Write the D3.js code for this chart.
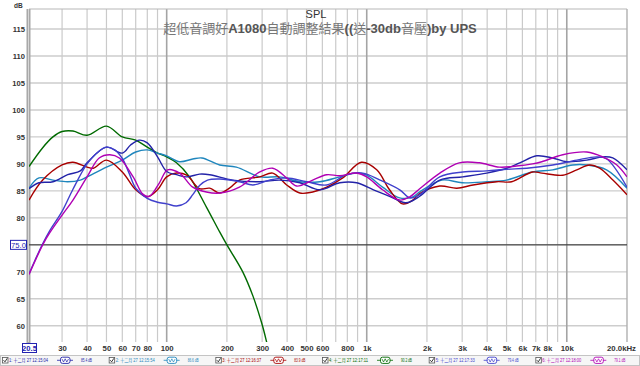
<!DOCTYPE html>
<html><head><meta charset="utf-8">
<script src="https://cdn.jsdelivr.net/npm/d3@7"></script>
<style>body{margin:0;background:#fff}svg{display:block}</style>
</head><body>
<svg id="c" width="640" height="366"></svg>
<script>
// ---------- data ----------
const titleText = "SPL";
const subtitleText = "超低音調好A1080自動調整結果((送-30db音壓)by UPS";
const yTicks = [60,65,70,75,80,85,90,95,100,105,110,115];
const xTickValues = [30,40,50,60,70,80,100,200,300,400,500,600,800,1000,2000,3000,4000,5000,6000,7000,8000,10000];
const xTickLabels = ["30","40","50","60","70","80","100","200","300","400","500","600","800","1k","2k","3k","4k","5k","6k","7k","8k","10k"];
const minorGrid = [30,40,50,60,70,80,90,200,300,400,500,600,700,800,900,2000,3000,4000,5000,6000,7000,8000,9000];
const decadeGrid = [100,1000,10000];
const refLevel = 75.0;
const startFreq = 20.5;

const seriesNames = ["1: 十二月 27 12:15:04","2: 十二月 27 12:15:54","3: 十二月 27 12:16:37","4: 十二月 27 12:17:11","5: 十二月 27 12:17:33","6: 十二月 27 12:18:00"];
const seriesValues = ["85.4 dB","86.6 dB","83.9 dB","90.2 dB","79.4 dB","79.1 dB"];
const seriesColors = ["#2323a8","#1f86bd","#a80000","#006a00","#4040cc","#b000b4"];

const s1 = [[20.5,85.4],[23,86.5],[27,86.7],[32,88],[37,88.7],[40,90.2],[50,93.1],[60,92.0],[66,93.5],[73,94.4],[80,93.9],[90,91.3],[100,88.6],[112,88],[126,87.6],[146,88.1],[164,88],[214,87],[292,86.7],[367,87],[463,86.5],[583,85.2],[733,86.5],[890,86.5],[1080,85.2],[1300,84],[1570,82.8],[1840,84],[2317,87],[3020,87.6],[3981,88.3],[5012,89.2],[5821,90.2],[7079,91.5],[8511,91.1],[10000,90.4],[12589,90.7],[15136,91.3],[16982,91.1],[20000,88.9]];
const s2 = [[20.5,85.5],[23,87.4],[27,87],[32,86.7],[37,87],[40,87.6],[50,89.4],[60,90.7],[70,92.2],[80,92.6],[90,92],[100,91.5],[116,90.4],[135,90.9],[150,91.1],[184,89.8],[223,89.4],[292,87.6],[367,87.6],[463,86.7],[583,86.7],[733,87.6],[890,88.3],[1000,87.9],[1200,85.7],[1460,83.7],[1700,83.9],[1840,84.8],[2371,87],[3000,86.5],[4000,86.7],[5000,87],[6730,88.5],[8500,88.9],[10700,89.8],[12600,89.8],[15800,88.9],[20000,85.5]];
const s3 = [[20.5,83.3],[24,87],[30,89.8],[34,90.3],[40,89.4],[43,89.2],[50,90.7],[60,88.5],[70,85.2],[80,83.9],[90,85.2],[100,87.6],[112,88.3],[126,87.9],[146,85.4],[164,85.5],[184,84.6],[206,85.5],[231,87],[292,87.6],[339,88.3],[398,86.1],[463,84.6],[537,84.8],[631,85.7],[759,87.4],[940,90.3],[1122,88.9],[1300,85.2],[1510,82.6],[1700,83.3],[1840,84.5],[2320,85.9],[2820,85.5],[3400,86.1],[4470,86.7],[5300,86.7],[6730,88.5],[7500,88.3],[9550,87.9],[11220,88.9],[13000,89.8],[14600,89.2],[17000,87],[20000,84.3]];
const s4 = [[20.5,89.5],[24,93],[27,95],[30,96],[34,96.1],[40,95.3],[50,97],[60,95],[70,94.4],[80,93.1],[90,92],[100,91.3],[112,90.2],[130,87.6],[158,82],[184,77.4],[200,75],[240,70],[270,65.5],[298,60.6],[316,57],[340,52]];
const s5 = [[20.5,69.6],[22,72.2],[24,75.2],[26,77.6],[30,81.2],[34,85.3],[40,90],[46,92.4],[50,93.1],[55,92.6],[60,91],[65,88.2],[70,85.5],[80,83.6],[90,82.9],[100,82.6],[112,82.2],[125,82.8],[135,84.3],[146,86],[160,87],[184,87.2],[231,86.7],[270,86.1],[327,87],[398,87.4],[501,86.7],[631,86.1],[794,88],[955,88.3],[1166,87],[1462,85.2],[1641,83.7],[1840,84.3],[2317,87.6],[3020,88.5],[3981,88.7],[5012,89],[6310,89.2],[8511,89.8],[11220,90.7],[14125,91.3],[15850,90.9],[20000,85.7]];
const s6 = [[20.5,69.5],[24,75],[26,77.2],[30,80.5],[34,83.3],[40,87.6],[46,91.1],[52,91.7],[58,91.1],[68,87.6],[76,84.4],[82,84],[92,86.5],[101,88.9],[116,88.3],[135,85.7],[158,84.8],[184,84.6],[231,85.7],[292,88.5],[339,89.2],[398,87.4],[446,85.9],[537,87],[631,88],[733,87.8],[890,88.3],[1000,87.6],[1200,85.2],[1460,83.3],[1640,83.9],[1840,85.4],[2320,88.3],[2900,90.2],[3650,90.2],[4600,89.4],[5600,89.6],[6730,90],[7500,90.4],[9550,91.7],[12600,92.2],[15100,91.3],[17800,89.8],[20000,87.6]];
const allSeries = [s1,s2,s3,s4,s5,s6];
const drawOrder = [3,1,2,0,4,5];

// ---------- layout ----------
const L = 29, R = 627, T = 9, B = 342;
const svg = d3.select("#c");
const x = d3.scaleLog().domain([startFreq, 20000]).range([L, R]);
const y = d3.scaleLinear().domain([57, 118.7]).range([B, T]);
const FONT = "'Liberation Sans', Arial, 'Noto Sans CJK TC', sans-serif";

svg.append("rect").attr("x",0).attr("y",0).attr("width",640).attr("height",366).attr("fill","#fff");

// grid
const g = svg.append("g");
g.selectAll(".hg").data(yTicks).join("line")
  .attr("x1",L).attr("x2",R).attr("y1",d=>y(d)).attr("y2",d=>y(d))
  .attr("stroke","#cdcdcd").attr("stroke-width",1.4);
g.selectAll(".vg").data(minorGrid).join("line")
  .attr("x1",d=>x(d)).attr("x2",d=>x(d)).attr("y1",T).attr("y2",B)
  .attr("stroke","#cacaca").attr("stroke-width",1.2);
g.selectAll(".dg").data(decadeGrid).join("line")
  .attr("x1",d=>x(d)).attr("x2",d=>x(d)).attr("y1",T).attr("y2",B)
  .attr("stroke","#a4a4a4").attr("stroke-width",1.6);
// frame
g.append("line").attr("x1",L).attr("x2",R).attr("y1",T).attr("y2",T).attr("stroke","#b8b8b8").attr("stroke-width",1.2);
g.append("line").attr("x1",R).attr("x2",R).attr("y1",T).attr("y2",B).attr("stroke","#b0b0b0").attr("stroke-width",1.4);
g.append("rect").attr("x",L-2.5).attr("y",T).attr("width",4).attr("height",B-T+1).attr("fill","#a8a8a8");
g.append("line").attr("x1",L-0.5).attr("x2",L-0.5).attr("y1",T).attr("y2",B).attr("stroke","#d6d6d6").attr("stroke-width",1);
// reference line
g.append("line").attr("x1",L).attr("x2",R).attr("y1",y(refLevel)).attr("y2",y(refLevel)).attr("stroke","#2a2a2a").attr("stroke-width",1);

// curves
svg.append("clipPath").attr("id","clip").append("rect").attr("x",L).attr("y",T).attr("width",R-L).attr("height",B-T);
const line = d3.line().x(d=>x(d[0])).y(d=>y(d[1])).curve(d3.curveCatmullRom.alpha(0.5));
const cg = svg.append("g").attr("clip-path","url(#clip)");
drawOrder.forEach(i=>{
  cg.append("path").attr("d",line(allSeries[i])).attr("fill","none")
    .attr("stroke",seriesColors[i]).attr("stroke-width",1.4).attr("stroke-linejoin","round");
});

// y axis labels
const ya = d3.axisLeft(y).tickValues(yTicks.filter(v=>v!==refLevel)).tickSize(0).tickPadding(0);
const yg = svg.append("g").attr("transform","translate(25,0)").call(ya);
yg.select(".domain").remove();
yg.selectAll("text").attr("font-family",FONT).attr("font-size",7.6).attr("font-weight","bold").attr("fill","#333").attr("dy","0.34em");
svg.append("text").attr("x",14).attr("y",7.5).attr("font-family",FONT).attr("font-size",6.5).attr("font-weight","bold").attr("fill","#333").text("dB");

// 75.0 marker
svg.append("rect").attr("x",10.5).attr("y",y(refLevel)-4.5).attr("width",16).attr("height",9).attr("fill","#fff").attr("stroke","#2323b0").attr("stroke-width",1);
svg.append("text").attr("x",18.5).attr("y",y(refLevel)).attr("dy","0.35em").attr("text-anchor","middle")
  .attr("font-family",FONT).attr("font-size",7.6).attr("fill","#2323b0").text(refLevel.toFixed(1));

// x axis labels
const xa = d3.axisBottom(x).tickValues(xTickValues).tickFormat((d,i)=>xTickLabels[i]).tickSize(0).tickPadding(0);
const xg = svg.append("g").attr("transform","translate(0,345)").call(xa);
xg.select(".domain").remove();
xg.selectAll("text").attr("font-family",FONT).attr("font-size",7.8).attr("font-weight","bold").attr("fill","#333").attr("dy","0.72em");
svg.append("text").attr("x",636).attr("y",351).attr("text-anchor","end").attr("font-family",FONT).attr("font-size",7.8).attr("font-weight","bold").attr("fill","#333").text("20.0kHz");
// 20.5 marker
svg.append("rect").attr("x",22.5).attr("y",343.5).attr("width",14).attr("height",9).attr("fill","#fff").attr("stroke","#2323b0").attr("stroke-width",1);
svg.append("text").attr("x",29.5).attr("y",348).attr("dy","0.35em").attr("text-anchor","middle")
  .attr("font-family",FONT).attr("font-size",7.6).attr("font-weight","bold").attr("fill","#2323b0").text(String(startFreq));

// titles
svg.append("text").attr("x",316).attr("y",18).attr("text-anchor","middle").attr("font-family",FONT).attr("font-size",11).attr("fill","#333").text(titleText);
const st = svg.append("text").attr("x",320).attr("y",33).attr("text-anchor","middle").attr("font-family",FONT).attr("font-size",13);
subtitleText.match(/[\u3400-\u9fff]+|[^\u3400-\u9fff]+/g).forEach(run=>{
  const cjk = /[\u3400-\u9fff]/.test(run);
  st.append("tspan").attr("font-weight",cjk?"normal":"bold").attr("fill",cjk?"#777":"#555").text(run);
});

// legend
svg.append("rect").attr("x",0.5).attr("y",355.5).attr("width",639).attr("height",10).attr("fill","#f6f6f6").attr("stroke","#c4c4c4");
const lg = svg.append("g").selectAll("g").data(seriesNames).join("g").attr("transform",(d,i)=>`translate(${i*640/6},0)`);
lg.append("rect").attr("x",2.5).attr("y",357.5).attr("width",5.5).attr("height",5.5).attr("fill","#fff").attr("stroke","#555").attr("stroke-width",0.8);
lg.append("path").attr("d","M3.5,360.2 L5,361.8 L7.2,358.3").attr("fill","none").attr("stroke","#222").attr("stroke-width",0.9);
lg.append("text").attr("x",9).attr("y",362.3).attr("font-family",FONT).attr("font-size",4.6)
  .attr("fill",(d,i)=>seriesColors[i]).attr("textLength",39).attr("lengthAdjust","spacingAndGlyphs").text(d=>d);
lg.append("line").attr("x1",57).attr("x2",73).attr("y1",360.3).attr("y2",360.3).attr("stroke",(d,i)=>seriesColors[i]).attr("stroke-width",0.8);
lg.append("rect").attr("x",60.5).attr("y",357.2).attr("width",9.5).attr("height",6.2).attr("rx",2).attr("fill","#fff").attr("stroke",(d,i)=>seriesColors[i]).attr("stroke-width",0.9);
lg.append("path").attr("d","M62,359 L63.5,362 L65.2,358.8 L66.8,362 L68.5,359").attr("fill","none").attr("stroke",(d,i)=>seriesColors[i]).attr("stroke-width",0.7);
lg.append("text").attr("x",81).attr("y",362.3).attr("font-family",FONT).attr("font-size",4.6)
  .attr("fill",(d,i)=>seriesColors[i]).attr("textLength",11).attr("lengthAdjust","spacingAndGlyphs").text((d,i)=>seriesValues[i]);
</script>
</body></html>
